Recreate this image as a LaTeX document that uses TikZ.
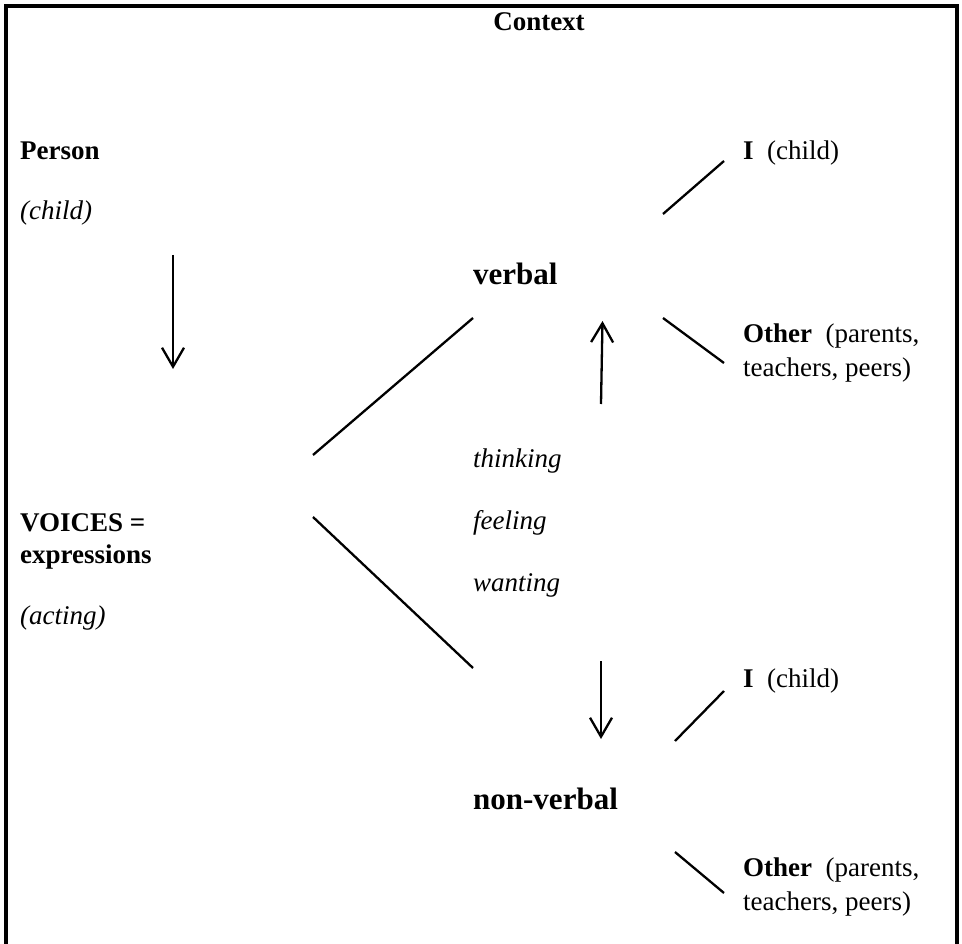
\documentclass[tikz,border=0pt]{standalone}
\usepackage{fontspec}
\setmainfont{Liberation Serif}
\usetikzlibrary{arrows.meta}
\tikzset{
  lbl/.style={anchor=base west, inner sep=0pt, font=\fontsize{27}{34}\selectfont},
  biglbl/.style={anchor=base west, inner sep=0pt, font=\fontsize{31}{38}\selectfont},
  lblc/.style={anchor=base, inner sep=0pt, font=\fontsize{27}{34}\selectfont},
  link/.style={line width=2.3pt},
  flow/.style={line width=2.3pt, -{Straight Barb[length=19pt, width=22pt, line width=2.3pt]}},
  frame/.style={line width=3.2pt}
}
\begin{document}
\begin{tikzpicture}[x=1pt, y=-1pt]
\useasboundingbox (0,0) rectangle (962,944);
\draw[frame] (6,944) -- (6,6) -- (957,6) -- (957,944);

\node[lblc] (context) at (539,31) {\textbf{Context}};
\node[lbl] (person) at (20,160) {\textbf{Person}};
\node[lbl] (child) at (20,220) {\textit{(child)}};
\node[lbl] (voices) at (20,531) {\textbf{VOICES =}};
\node[lbl] (expr) at (20,563) {\textbf{expressions}};
\node[lbl] (acting) at (20,624) {\textit{(acting)}};

\node[biglbl] (verbal) at (473,285) {\textbf{verbal}};
\node[lbl] (thinking) at (473,467) {\textit{thinking}};
\node[lbl] (feeling) at (473,529) {\textit{feeling}};
\node[lbl] (wanting) at (473,591) {\textit{wanting}};
\node[biglbl] (nonverbal) at (473,809) {\textbf{non-verbal}};

\node[lbl] (i1) at (743,160) {\textbf{I}\hspace{0.5em}(child)};
\node[lbl] (o1) at (743,342) {\textbf{Other}\hspace{0.5em}(parents,};
\node[lbl] (o1b) at (743,377) {teachers, peers)};
\node[lbl] (i2) at (743,687) {\textbf{I}\hspace{0.5em}(child)};
\node[lbl] (o2) at (743,876) {\textbf{Other}\hspace{0.5em}(parents,};
\node[lbl] (o2b) at (743,910) {teachers, peers)};

% arrow endpoints
\coordinate (a1s) at (173,255);
\coordinate (a1e) at (173,369);
\coordinate (a2s) at (601,404);
\coordinate (a2e) at (602.5,321);
\coordinate (a3s) at (601,661);
\coordinate (a3e) at (601,739);
\draw[flow] (a1s) -- (a1e);
\draw[flow] (a2s) -- (a2e);
\draw[flow] (a3s) -- (a3e);

% line endpoints
\coordinate (l1a) at (313,455);
\coordinate (l1b) at (473,318);
\coordinate (l2a) at (313,517);
\coordinate (l2b) at (473,668);
\coordinate (l3a) at (663,214);
\coordinate (l3b) at (724,161);
\coordinate (l4a) at (663,318);
\coordinate (l4b) at (724,363);
\coordinate (l5a) at (675,741);
\coordinate (l5b) at (724,691);
\coordinate (l6a) at (675,852);
\coordinate (l6b) at (724,893);
\draw[link] (l1a) -- (l1b);
\draw[link] (l2a) -- (l2b);
\draw[link] (l3a) -- (l3b);
\draw[link] (l4a) -- (l4b);
\draw[link] (l5a) -- (l5b);
\draw[link] (l6a) -- (l6b);
\end{tikzpicture}
\end{document}
